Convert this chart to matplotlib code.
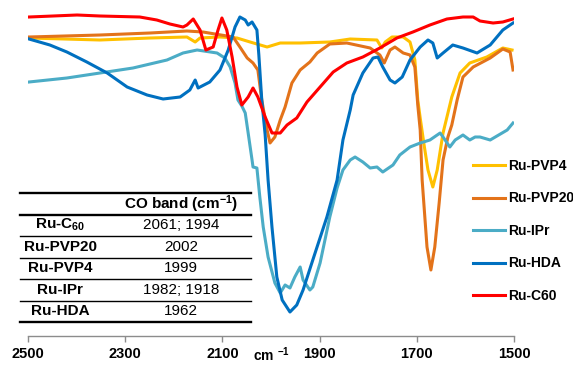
import numpy as np
import matplotlib
matplotlib.use("Agg")
import matplotlib.pyplot as plt

plt.rcParams['font.family'] = ['Liberation Sans', 'DejaVu Sans']
plt.rcParams['font.weight'] = 'bold'
plt.rcParams['mathtext.fontset'] = 'custom'
plt.rcParams['mathtext.rm'] = 'Liberation Sans'
plt.rcParams['mathtext.bf'] = 'Liberation Sans:bold'
plt.rcParams['mathtext.default'] = 'bf'

# Datos (cm-1, señal en unidades arbitrarias)
wn_pvp4 = [2498, 2352, 2249, 2173, 2156, 2146, 2105, 2070, 2043, 2008, 1981, 1940, 1879, 1837,
           1782, 1772, 1765, 1751, 1728, 1714, 1704, 1698, 1693, 1685, 1677, 1667, 1658, 1646,
           1642, 1628, 1611, 1591, 1556, 1523, 1504]
y_pvp4 = [299, 297, 299, 300, 295, 299, 300, 299, 295, 290, 294, 294, 295, 298,
          297, 289, 295, 300, 300, 295, 277, 237, 219, 192, 167, 150, 167, 204,
          212, 240, 264, 274, 280, 289, 287]

wn_pvp20 = [2498, 2352, 2249, 2173, 2140, 2078, 2064, 2049, 2037, 2027, 2019, 2008, 2002, 1992,
            1981, 1971, 1957, 1940, 1920, 1905, 1879, 1844, 1796, 1776, 1767, 1755, 1745, 1728,
            1714, 1704, 1698, 1693, 1689, 1679, 1671, 1663, 1654, 1646, 1636, 1628, 1617, 1605,
            1584, 1549, 1523, 1508, 1502]
y_pvp20 = [300, 302, 304, 306, 305, 300, 290, 279, 274, 267, 237, 207, 194, 200,
           217, 230, 254, 267, 275, 284, 293, 294, 289, 282, 274, 287, 290, 284,
           282, 270, 232, 207, 157, 90, 67, 90, 134, 177, 200, 212, 237, 260,
           270, 279, 288, 285, 267]

wn_ipr = [2498, 2420, 2352, 2284, 2214, 2181, 2152, 2111, 2095, 2084, 2074, 2068, 2060, 2053,
          2047, 2039, 2037, 2029, 2023, 2016, 2006, 1992, 1981, 1971, 1961, 1951, 1940, 1934,
          1920, 1914, 1899, 1879, 1864, 1852, 1837, 1827, 1811, 1796, 1782, 1770, 1749, 1735,
          1714, 1693, 1673, 1652, 1646, 1632, 1621, 1605, 1591, 1580, 1570, 1549, 1514, 1502]
y_ipr = [255, 259, 264, 269, 277, 284, 287, 284, 279, 270, 254, 237, 231, 224,
         204, 177, 170, 169, 140, 110, 80, 54, 44, 52, 49, 60, 70, 57,
         47, 50, 74, 120, 149, 167, 177, 180, 175, 169, 170, 165, 172, 182,
         190, 194, 197, 204, 200, 190, 197, 202, 197, 200, 200, 197, 207, 214]

wn_hda = [2498, 2455, 2420, 2379, 2337, 2296, 2255, 2222, 2187, 2167, 2156, 2150, 2126, 2105,
          2088, 2074, 2064, 2053, 2047, 2039, 2029, 2025, 2019, 2012, 2006, 1998, 1988, 1977,
          1961, 1947, 1934, 1914, 1885, 1864, 1852, 1837, 1831, 1811, 1790, 1780, 1770, 1755,
          1745, 1730, 1714, 1693, 1677, 1667, 1658, 1646, 1626, 1605, 1576, 1566, 1549, 1523, 1502]
y_hda = [298, 292, 285, 275, 264, 250, 242, 238, 240, 247, 257, 249, 255, 267,
         287, 310, 320, 317, 312, 315, 307, 282, 237, 202, 157, 110, 60, 37,
         25, 32, 47, 77, 120, 157, 197, 227, 242, 264, 279, 280, 270, 257,
         254, 260, 277, 290, 297, 294, 279, 284, 292, 289, 284, 287, 292, 307, 314]

wn_c60 = [2498, 2399, 2352, 2270, 2235, 2208, 2181, 2173, 2160, 2146, 2134, 2119, 2109, 2101,
          2091, 2080, 2070, 2060, 2047, 2037, 2027, 2012, 1998, 1981, 1967, 1947, 1926, 1872,
          1844, 1811, 1776, 1741, 1708, 1673, 1638, 1605, 1584, 1570, 1543, 1523, 1502]
y_c60 = [320, 322, 321, 320, 317, 313, 310, 312, 318, 307, 287, 290, 307, 319,
         307, 280, 250, 232, 240, 249, 240, 220, 204, 204, 212, 219, 235, 265,
         274, 280, 289, 299, 305, 312, 318, 320, 320, 316, 314, 315, 318]

series = [
    ("Ru-PVP4", wn_pvp4, y_pvp4, "#FFC000"),
    ("Ru-PVP20", wn_pvp20, y_pvp20, "#E3731A"),
    ("Ru-IPr", wn_ipr, y_ipr, "#4BACC6"),
    ("Ru-HDA", wn_hda, y_hda, "#0070C0"),
    ("Ru-C60", wn_c60, y_c60, "#FF0000"),
]

# Tabla
tabla_muestras = ["Ru-C$_{60}$", "Ru-PVP20", "Ru-PVP4", "Ru-IPr", "Ru-HDA"]
tabla_co = ["2061; 1994", "2002", "1999", "1982; 1918", "1962"]
tabla_titulo = "CO band (cm$^{-1}$)"

xticks = [2500, 2300, 2100, 1900, 1700, 1500]

W, H = 573, 365
fig = plt.figure(figsize=(W / 100, H / 100), dpi=100)
ax = fig.add_axes([28 / W, (H - 336) / H, 486 / W, 326 / H])

for name, wn, y, c in series:
    ax.plot(wn, y, color=c, lw=2.2, label=name, solid_joinstyle='round')

ax.set_xlim(2500, 1500)
ax.set_ylim(1, 327)
ax.set_xticks(xticks)
ax.set_yticks([])
for s in ['top', 'right', 'left']:
    ax.spines[s].set_visible(False)
ax.spines['bottom'].set_color('#8c8c8c')
ax.spines['bottom'].set_linewidth(1.0)
ax.tick_params(axis='x', direction='out', length=4, width=1, color='#8c8c8c',
               labelsize=10.5, pad=4)
ax.set_xlabel("cm $^{-1}$", fontsize=10, fontweight='bold')
ax.xaxis.set_label_coords(0.5, -0.030)

ax.legend(loc='upper left', bbox_to_anchor=(473 / W, (H - 159) / H),
          bbox_transform=fig.transFigure, frameon=False, fontsize=10,
          handlelength=2.3, handletextpad=0.2, labelspacing=1.33,
          borderpad=0, borderaxespad=0)

# Tabla dibujada a mano
tab = fig.add_axes([20 / W, (H - 322) / H, 231 / W, 129 / H])
tab.axis('off')
tab.set_xlim(0, 1)
tab.set_ylim(0, 6)
for yl in [6, 5, 0]:
    tab.plot([0, 1], [yl, yl], color='black', lw=1.7, clip_on=False)
for yl in [4, 3, 2, 1]:
    tab.plot([0, 1], [yl, yl], color='black', lw=1.0, clip_on=False)
tab.text(0.696, 5.5, tabla_titulo, ha='center', va='center', fontsize=11, fontweight='bold')
for i, (m, v) in enumerate(zip(tabla_muestras, tabla_co)):
    yc = 4.5 - i
    tab.text(0.174, yc, m, ha='center', va='center', fontsize=11, fontweight='bold')
    tab.text(0.696, yc, v, ha='center', va='center', fontsize=11, fontweight='normal')

fig.savefig("out.png", dpi=100)
